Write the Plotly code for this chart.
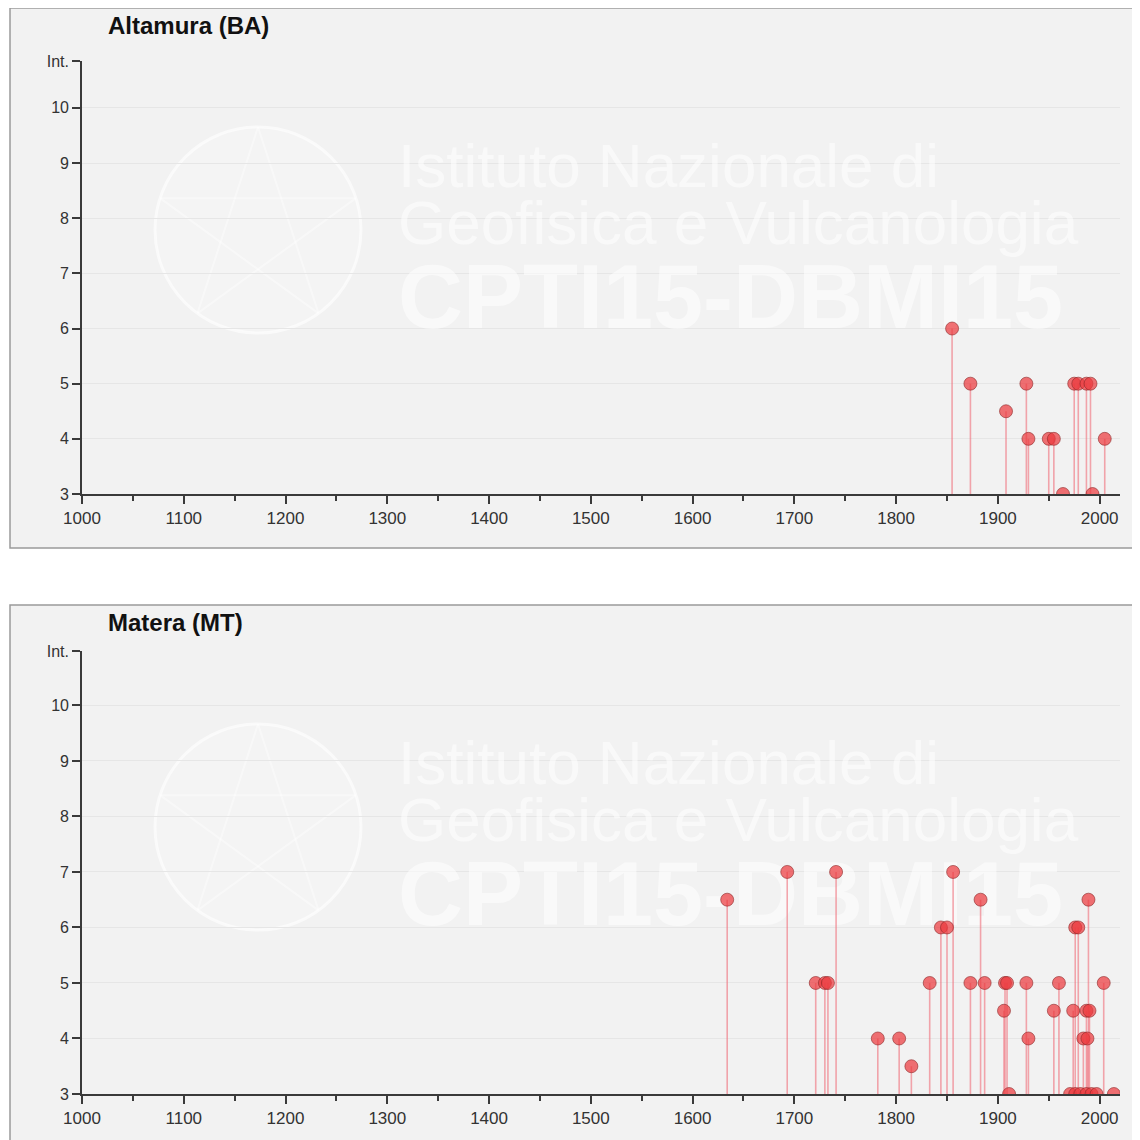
import plotly.graph_objects as go
import math

# ---------------- data ----------------
titles = ["Altamura (BA)", "Matera (MT)"]

alt_years = [1855, 1873, 1908, 1928, 1930, 1950, 1955, 1964, 1975, 1979, 1987, 1991, 1993, 2005]
alt_int = [6, 5, 4.5, 5, 4, 4, 4, 3, 5, 5, 5, 5, 3, 4]

mat_years = [1634, 1693, 1721, 1730, 1733, 1741, 1782, 1803, 1815, 1833, 1844, 1850, 1856,
             1873, 1883, 1887, 1906, 1907, 1909, 1911, 1928, 1930, 1955, 1960, 1974,
             1976, 1979, 1989, 1987, 1990, 1984, 1988, 2004,
             1971, 1976, 1981, 1987, 1992, 1997, 2014]
mat_int = [6.5, 7, 5, 5, 5, 7, 4, 4, 3.5, 5, 6, 6, 7,
           5, 6.5, 5, 4.5, 5, 5, 3, 5, 4, 4.5, 5, 4.5,
           6, 6, 6.5, 4.5, 4.5, 4, 4, 5,
           3, 3, 3, 3, 3, 3, 3]

x_tickvals = list(range(1000, 2001, 100))
y_tickvals = [3, 4, 5, 6, 7, 8, 9, 10]
y_ticktext = ["3", "4", "5", "6", "7", "8", "9", "10"]
y_top_label = "Int."
base_int = 3
watermark_lines = ["Istituto Nazionale di", "Geofisica e Vulcanologia", "CPTI15-DBMI15"]

W = H = 1140
PAGE_OFF = 8  # default body margin of the html page


def PX(p):
    return (p - PAGE_OFF) / W


def PY(p):
    return 1 - (p - PAGE_OFF) / H


FONT = "Liberation Sans, Arial, sans-serif"
AXIS_COL = "#3a3a3a"
PANEL_BG = "#f2f2f2"
X_RANGE = [1000, 2020]
PLOT_L, PLOT_R = 82, 1120

fig = go.Figure()

panels = [
    dict(years=alt_years, vals=alt_int, top=8, bottom=548, ytop=61, ybot=494, yr_top=10.85),
    dict(years=mat_years, vals=mat_int, top=605, bottom=1170, ytop=651, ybot=1094, yr_top=10.98),
]

shapes = []
annotations = []
layout_axes = {}

for i, p in enumerate(panels):
    n = "" if i == 0 else str(i + 1)
    xa, ya = "x" + n, "y" + n
    off = p["top"] - 8

    # watermark text, drawn as a background text trace (below the data)
    def to_x(px):
        return X_RANGE[0] + (px - PLOT_L) * (X_RANGE[1] - X_RANGE[0]) / (PLOT_R - PLOT_L)

    def to_y(py):
        return 3 + (p["ybot"] - py) * (p["yr_top"] - 3) / (p["ybot"] - p["ytop"])

    wm_pos = [(171, 62, "normal"), (228, 62, "normal"), (305, 90, "bold")]
    for txt, (yc, sz, wt) in zip(watermark_lines, wm_pos):
        fig.add_trace(go.Scatter(
            x=[to_x(398)], y=[to_y(yc + off)], mode="text", text=[txt],
            textposition="middle right", xaxis=xa, yaxis=ya, cliponaxis=False,
            textfont=dict(family=FONT, size=sz, color="rgba(255,255,255,0.55)", weight=wt),
            hoverinfo="skip", showlegend=False,
        ))

    fig.add_trace(go.Scatter(
        x=p["years"], y=p["vals"], mode="markers", xaxis=xa, yaxis=ya,
        marker=dict(size=13, color="rgba(236,58,62,0.72)",
                    line=dict(color="rgba(140,40,40,0.6)", width=1)),
        error_y=dict(type="data", symmetric=False,
                     array=[0] * len(p["vals"]),
                     arrayminus=[v - base_int for v in p["vals"]],
                     color="rgba(240,120,130,0.65)", thickness=1.6, width=0),
        hoverinfo="x+y", showlegend=False,
    ))

    layout_axes["xaxis" + n] = dict(
        domain=[PX(PLOT_L), PX(PLOT_R)], range=X_RANGE, anchor=ya, automargin=False,
        tickvals=x_tickvals, ticks="outside", ticklen=8, tickwidth=1.5, tickcolor=AXIS_COL,
        showline=True, linecolor=AXIS_COL, linewidth=1.6, showgrid=False, zeroline=False,
        tickfont=dict(family=FONT, size=17, color="#333"),
        minor=dict(dtick=50, tick0=1000, ticks="outside", ticklen=5, tickwidth=1.5,
                   tickcolor=AXIS_COL, showgrid=False),
        fixedrange=True,
    )
    layout_axes["yaxis" + n] = dict(
        domain=[PY(p["ybot"]), PY(p["ytop"])], range=[3, p["yr_top"]], anchor=xa,
        automargin=False,
        tickvals=y_tickvals + [p["yr_top"]], ticktext=y_ticktext + [y_top_label],
        ticks="outside", ticklen=8, tickwidth=1.5, tickcolor=AXIS_COL,
        showline=True, linecolor=AXIS_COL, linewidth=1.6,
        showgrid=True, gridcolor="#e6e6e6", gridwidth=1, zeroline=False,
        tickfont=dict(family=FONT, size=16, color="#333"),
        fixedrange=True,
    )

    shapes.append(dict(type="rect", xref="paper", yref="paper", layer="below",
                       x0=PX(10), x1=PX(1170), y0=PY(p["bottom"]), y1=PY(p["top"]),
                       fillcolor=PANEL_BG, line=dict(color="#9a9a9a", width=1.5)))

    cx, cy, r = 258, 230 + off, 103
    shapes.append(dict(type="circle", xref="paper", yref="paper", layer="below",
                       x0=PX(cx - r), x1=PX(cx + r), y0=PY(cy + r), y1=PY(cy - r),
                       fillcolor="rgba(255,255,255,0.2)",
                       line=dict(color="rgba(255,255,255,0.6)", width=3)))
    pts = [(cx + r * math.sin(math.radians(a)), cy - r * math.cos(math.radians(a)))
           for a in (0, 72, 144, 216, 288)]
    for k in range(5):
        a1 = pts[k]
        a2 = pts[(k + 2) % 5]
        shapes.append(dict(type="line", xref="paper", yref="paper", layer="below",
                           x0=PX(a1[0]), y0=PY(a1[1]), x1=PX(a2[0]), y1=PY(a2[1]),
                           line=dict(color="rgba(255,255,255,0.4)", width=2)))

    annotations.append(dict(text="<b>" + titles[i] + "</b>", xref="paper", yref="paper",
                            showarrow=False, x=PX(106), y=PY(25 + off),
                            xanchor="left", yanchor="middle",
                            font=dict(family=FONT, size=24, color="#111")))

fig.update_layout(
    width=W, height=H, margin=dict(l=0, r=0, t=0, b=0, autoexpand=False),
    paper_bgcolor="white", plot_bgcolor="rgba(0,0,0,0)",
    shapes=shapes, annotations=annotations, showlegend=False,
    **layout_axes,
)

fig.write_html("out.html")
